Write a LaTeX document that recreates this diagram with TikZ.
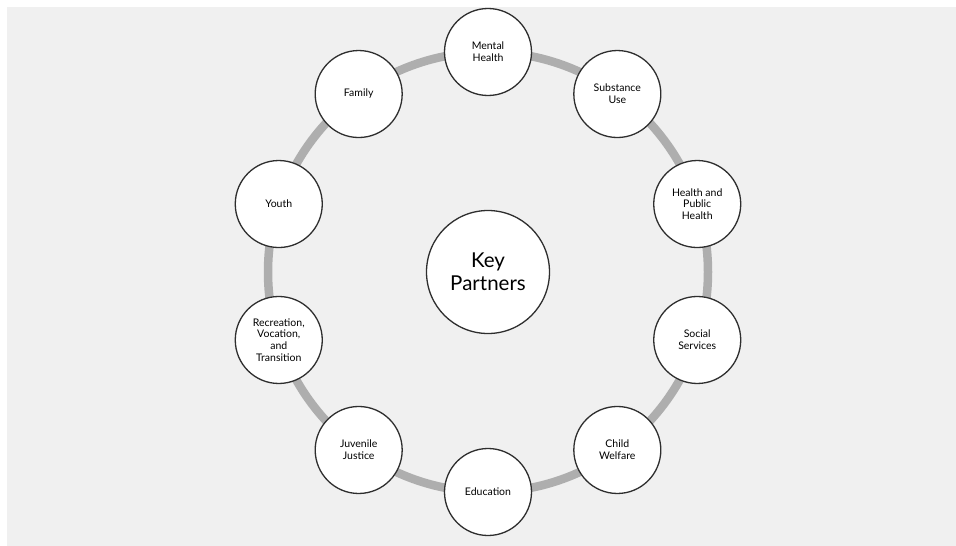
\documentclass[tikz,border=0pt]{standalone}
\usepackage{fontspec}
\setmainfont{Lato}
\usetikzlibrary{calc}
\definecolor{bggray}{HTML}{F0F0F0}
\definecolor{ringgray}{HTML}{AEAEAE}
\definecolor{edgegray}{HTML}{2E2E2E}
\tikzset{
  partner/.style={circle, draw=edgegray, line width=1.3pt, fill=white, minimum size=87pt, inner sep=0pt,
    align=center, font=\fontsize{10.5}{11.8}\selectfont, text=black},
  hub/.style={circle, draw=edgegray, line width=1.3pt, fill=white, minimum size=123pt, inner sep=0pt,
    align=center, font=\fontsize{20.5}{23}\selectfont, text=black},
  ring/.style={draw=ringgray, line width=8.5pt}
}
\begin{document}
\begin{tikzpicture}[x=1pt,y=-1pt]
\useasboundingbox (0,0) rectangle (956,546);
\fill[white] (0,0) rectangle (956,546);
\fill[bggray] (7,7) rectangle (956,546);
\coordinate (c) at (488,272);
\draw[ring] (c) circle (220pt);
\node[hub] (key) at (c) {Key\\Partners};
\node[partner] (mh) at ($(c)+(90:220pt)$) {Mental\\Health};
\node[partner] (su) at ($(c)+(54:220pt)$) {Substance\\Use};
\node[partner] (hp) at ($(c)+(18:220pt)$) {Health and\\Public\\Health};
\node[partner] (ss) at ($(c)+(-18:220pt)$) {Social\\Services};
\node[partner] (cw) at ($(c)+(-54:220pt)$) {Child\\Welfare};
\node[partner] (ed) at ($(c)+(-90:220pt)$) {Education};
\node[partner] (jj) at ($(c)+(-126:220pt)$) {Juvenile\\Justice};
\node[partner] (rv) at ($(c)+(-162:220pt)$) {Recreation,\\Vocation,\\and\\Transition};
\node[partner] (yo) at ($(c)+(162:220pt)$) {Youth};
\node[partner] (fa) at ($(c)+(126:220pt)$) {Family};
\end{tikzpicture}
\end{document}
